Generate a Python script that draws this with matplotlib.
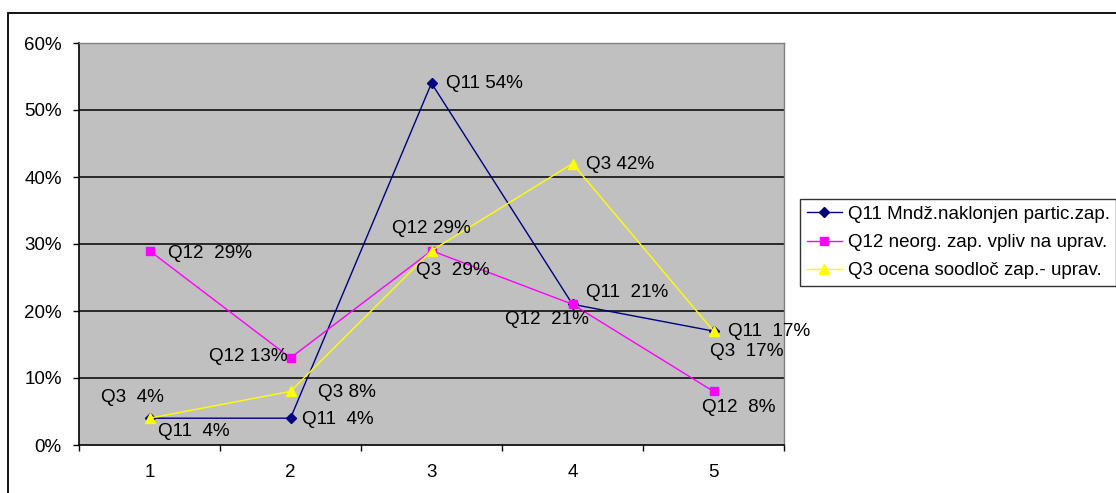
import matplotlib
matplotlib.use('Agg')
import matplotlib.pyplot as plt
from matplotlib.patches import Rectangle
from matplotlib.ticker import FixedLocator, FuncFormatter

plt.rcParams['font.family'] = ['Liberation Sans', 'DejaVu Sans']

categories = [1, 2, 3, 4, 5]
q11_vals = [4, 4, 54, 21, 17]
q12_vals = [29, 13, 29, 21, 8]
q3_vals = [4, 8, 29, 42, 17]

q11_labels = ['Q11  4%', 'Q11  4%', 'Q11 54%', 'Q11  21%', 'Q11  17%']
q12_labels = ['Q12  29%', 'Q12 13%', 'Q12 29%', 'Q12  21%', 'Q12  8%']
q3_labels = ['Q3  4%', 'Q3 8%', 'Q3  29%', 'Q3 42%', 'Q3  17%']

legend_names = ['Q11 Mndž.naklonjen partic.zap.',
                'Q12 neorg. zap. vpliv na uprav.',
                'Q3 ocena soodloč zap.- uprav.']

y_ticks = [0, 10, 20, 30, 40, 50, 60]

# label placement (offset in pixels, alignment)
q11_pos = [((8, -13), 'left'), ((12, -1), 'left'), ((14, 0), 'left'),
           ((13, 12), 'left'), ((14, 0), 'left')]
q12_pos = [((19, -3), 'left'), ((-3, 1), 'right'), ((0, 22), 'center'),
           ((-26, -15), 'center'), ((25, -16), 'center')]
q3_pos = [((-17, 21), 'center'), ((28, -1), 'left'), ((21, -20), 'center'),
          ((13, -1), 'left'), ((33, -20), 'center')]

W, H = 1116, 493
fig = plt.figure(figsize=(W / 100, H / 100), dpi=100)
fig.patch.set_facecolor('white')

# outer chart frame
fig.patches.append(Rectangle((8 / W, -0.05), 1.2, 1 - 13 / H + 0.05,
                             transform=fig.transFigure, fill=False,
                             edgecolor='black', linewidth=1.3))

ax = fig.add_axes([79 / W, 1 - 445 / H, (784 - 79) / W, (445 - 43) / H])
ax.set_facecolor('#C0C0C0')

series = [
    (q11_vals, q11_labels, q11_pos, '#000080', 'D', 5.5),
    (q12_vals, q12_labels, q12_pos, '#FF00FF', 's', 6),
    (q3_vals, q3_labels, q3_pos, '#FFFF00', '^', 7.5),
]

handles = []
for vals, labels, pos, color, marker, ms in series:
    h, = ax.plot(categories, vals, color=color, marker=marker, markersize=ms,
                 linewidth=1.0, markeredgecolor=color, zorder=3)
    handles.append(h)
    for x, v, lab, ((dx, dy), ha) in zip(categories, vals, labels, pos):
        ax.annotate(lab, xy=(x, v), xytext=(dx, dy), textcoords='offset pixels',
                    ha=ha, va='center', fontsize=13.6, color='black', zorder=4)

ax.set_xlim(0.5, 5.5)
ax.set_ylim(0, 60)
for y in y_ticks[1:-1]:
    ax.axhline(y, color='black', linewidth=1.1, zorder=1)

ax.yaxis.set_major_locator(FixedLocator(y_ticks))
ax.yaxis.set_major_formatter(FuncFormatter(lambda v, p: f'{v:.0f}%'))
ax.xaxis.set_major_locator(FixedLocator([0.5, 1.5, 2.5, 3.5, 4.5, 5.5]))
ax.xaxis.set_major_formatter(FuncFormatter(lambda v, p: ''))
ax.xaxis.set_minor_locator(FixedLocator(categories))
ax.xaxis.set_minor_formatter(FuncFormatter(lambda v, p: f'{v:.0f}'))
ax.tick_params(axis='x', which='major', direction='out', length=4.5, width=1)
ax.tick_params(axis='x', which='minor', length=0, pad=14, labelsize=13.5)
ax.tick_params(axis='y', direction='out', length=4.5, width=1, pad=8, labelsize=13.5)

for side in ['left', 'bottom']:
    ax.spines[side].set_color('black')
    ax.spines[side].set_linewidth(1.2)
for side in ['top', 'right']:
    ax.spines[side].set_color('#808080')
    ax.spines[side].set_linewidth(1.0)

leg = fig.legend(handles, legend_names, loc='upper left',
                 bbox_to_anchor=(800 / W, 1 - 199 / H), fontsize=13.5,
                 frameon=True, fancybox=False, edgecolor='black',
                 borderpad=0.35, labelspacing=0.6, handlelength=1.9,
                 handletextpad=0.3, borderaxespad=0)
leg.get_frame().set_linewidth(1.0)

fig.savefig('out.png', dpi=100)
